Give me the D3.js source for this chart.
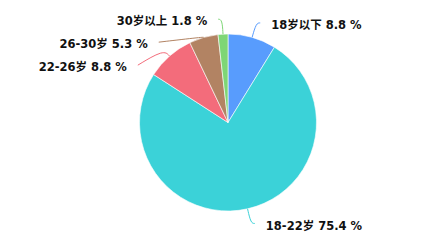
<!DOCTYPE html>
<html>
<head>
<meta charset="utf-8">
<script src="https://cdn.jsdelivr.net/npm/d3@7/dist/d3.min.js"></script>
<style>
html,body{margin:0;padding:0;background:#fff;}
svg{display:block;}
</style>
</head>
<body>
<div id="chart"></div>
<script>
const categories = ["18岁以下", "18-22岁", "22-26岁", "26-30岁", "30岁以上"];
const values = [8.8, 75.4, 8.8, 5.3, 1.8];
const colors = ["#589CFD", "#3BD2D8", "#F36C7B", "#B28363", "#7ED676"];

const W = 445, H = 244;
const cx = 228, cy = 122.5, r = 88.5;
const len1 = 15, len2 = 4, gap = 11, minGap = 23, maxTurn = 80;

const svg = d3.select("#chart").append("svg").attr("width", W).attr("height", H);
const g = svg.append("g").attr("transform", `translate(${cx},${cy})`);

const pie = d3.pie().sort(null).value(d => d);
const arcs = pie(values);
const arc = d3.arc().innerRadius(0).outerRadius(r);

g.selectAll("path.slice").data(arcs).enter().append("path")
  .attr("class", "slice")
  .attr("d", arc)
  .attr("fill", (d, i) => colors[i])
  .attr("stroke", "#fff").attr("stroke-width", 0.6);

// label layout
const labels = arcs.map((d, i) => {
  const a = (d.startAngle + d.endAngle) / 2;
  const dx = Math.sin(a), dy = -Math.cos(a);
  return {
    i, a, dx, dy,
    right: dx >= 0,
    p0: [r * dx, r * dy],
    p1: [(r + len1) * dx, (r + len1) * dy],
    y: (r + len1) * dy,
    y0: (r + len1) * dy
  };
});
[true, false].forEach(side => {
  const list = labels.filter(l => l.right === side).sort((a, b) => a.y - b.y);
  for (let k = 1; k < list.length; k++) {
    if (list[k].y < list[k - 1].y + minGap) list[k].y = list[k - 1].y + minGap;
  }
});
const R = r + len1;
labels.forEach(l => {
  let x;
  if (Math.abs(l.y - l.y0) > 0.5) {
    const s = Math.sqrt(Math.max(0, R * R - l.y * l.y));
    x = l.right ? s : -s;
  } else x = l.p1[0];
  l.p2 = [x + (l.right ? len2 : -len2), l.y];
  // limit turn angle
  let t = len1;
  for (; t >= 0; t -= 0.25) {
    const m = [(r + t) * l.dx, (r + t) * l.dy];
    const vx = l.p2[0] - m[0], vy = l.p2[1] - m[1];
    const n = Math.hypot(vx, vy);
    const ang = Math.acos((vx * l.dx + vy * l.dy) / n) * 180 / Math.PI;
    if (ang <= maxTurn) break;
  }
  t = Math.max(t, 0.5);
  l.pm = [(r + t) * l.dx, (r + t) * l.dy];
});

const line = d3.line().curve(d3.curveBasis);
g.selectAll("path.lbl").data(labels).enter().append("path")
  .attr("class", "lbl")
  .attr("d", l => line([l.p0, l.pm, l.p2]))
  .attr("fill", "none")
  .attr("stroke", l => colors[l.i])
  .attr("stroke-width", 1);

g.selectAll("text.lbl").data(labels).enter().append("text")
  .attr("class", "lbl")
  .attr("x", l => l.p2[0] + (l.right ? gap : -gap))
  .attr("y", l => l.y + 2.2)
  .attr("dominant-baseline", "central")
  .attr("text-anchor", l => l.right ? "start" : "end")
  .attr("font-family", "'DejaVu Sans', 'Noto Sans CJK SC', sans-serif")
  .attr("font-weight", "bold")
  .attr("font-size", 11.5)
  .attr("fill", "#111")
  .text(l => `${categories[l.i]} ${values[l.i]} %`);
</script>
</body>
</html>
